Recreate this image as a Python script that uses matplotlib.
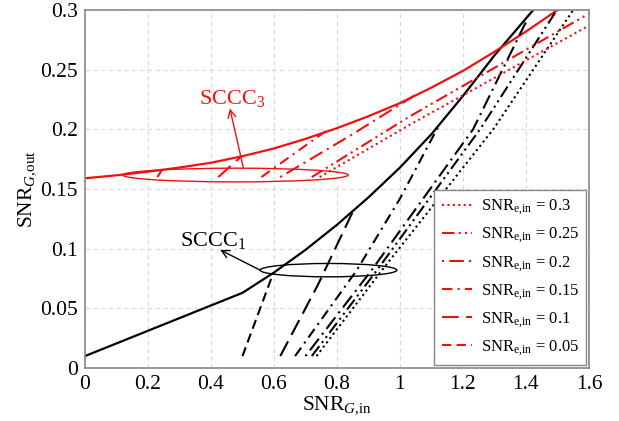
import matplotlib
matplotlib.use("Agg")
import matplotlib.pyplot as plt
from matplotlib.patches import Ellipse

# ─────────── data ──────────────────────────────────────────────────────────
snr_e_in = ["0.3", "0.25", "0.2", "0.15", "0.1", "0.05"]

# SCCC1 reference curve (black solid)
sccc1_x = [0.0, 0.5, 0.6, 0.7, 0.8, 0.9, 1.0, 1.1, 1.2, 1.3, 1.423]
sccc1_y = [0.010, 0.063, 0.080, 0.099, 0.120, 0.143, 0.168, 0.196, 0.228, 0.262, 0.300]

# SCCC3 reference curve (red solid)
sccc3_x = [0.0, 0.1, 0.2, 0.3, 0.4, 0.5, 0.6, 0.7, 0.8, 0.9, 1.0, 1.1, 1.2, 1.3, 1.4, 1.5]
sccc3_y = [0.159, 0.1615, 0.1645, 0.168, 0.172, 0.1775, 0.184, 0.192, 0.201, 0.211,
           0.222, 0.235, 0.249, 0.265, 0.282, 0.300]

# SCCC1 curves for each SNR_e,in (black), same order as snr_e_in
black_x = [
    [0.735, 0.943, 1.296, 1.55],
    [0.72, 0.927, 1.254, 1.498],
    [0.70, 0.91, 1.232, 1.40],
    [0.667, 0.863, 1.0, 1.127],
    [0.62, 0.74, 0.852],
    [0.50, 0.597],
]
black_y = [
    [0.010, 0.082, 0.200, 0.300],
    [0.010, 0.082, 0.200, 0.300],
    [0.010, 0.082, 0.200, 0.290],
    [0.010, 0.082, 0.142, 0.205],
    [0.010, 0.070, 0.132],
    [0.010, 0.079],
]

# SCCC3 curves for each SNR_e,in (red)
red_x = [
    [0.745, 1.032, 1.6],
    [0.72, 1.032, 1.6],
    [0.62, 0.85, 1.05],
    [0.56, 0.767],
    [0.423, 0.497],
    [0.23, 0.245],
]
red_y = [
    [0.160, 0.204, 0.287],
    [0.160, 0.211, 0.297],
    [0.160, 0.196, 0.229],
    [0.160, 0.199],
    [0.160, 0.1775],
    [0.160, 0.1665],
]

x_ticks = [0, 0.2, 0.4, 0.6, 0.8, 1.0, 1.2, 1.4, 1.6]
x_ticklabels = ["0", "0.2", "0.4", "0.6", "0.8", "1", "1.2", "1.4", "1.6"]
y_ticks = [0, 0.05, 0.1, 0.15, 0.2, 0.25, 0.3]
y_ticklabels = ["0", "0.05", "0.1", "0.15", "0.2", "0.25", "0.3"]

# ─────────── style ─────────────────────────────────────────────────────────
plt.rcParams["font.family"] = ["Liberation Serif", "DejaVu Serif"]
plt.rcParams["mathtext.fontset"] = "custom"
plt.rcParams["mathtext.rm"] = "Liberation Serif"
plt.rcParams["mathtext.it"] = "Liberation Serif:italic"

RED = "#ee1111"
styles = [
    (0, (1, 1.6)),
    (0, (6, 2, 1, 2, 1, 2)),
    (0, (1, 2.5, 7, 2.5)),
    (0, (5, 2.5, 1, 2.5)),
    (0, (8, 3.5)),
    (0, (4.5, 2.5)),
]

fig = plt.figure(figsize=(6.19, 4.21), dpi=100)
ax = fig.add_axes([0.1373, 0.1259, 0.8142, 0.8503])

ax.plot(sccc1_x, sccc1_y, color="black", lw=1.6)
ax.plot(sccc3_x, sccc3_y, color=RED, lw=1.6)

for xs, ys, ls in zip(black_x, black_y, styles):
    ax.plot(xs, ys, color="black", lw=1.5, linestyle=ls)

handles = []
for xs, ys, ls, lab in zip(red_x, red_y, styles, snr_e_in):
    h, = ax.plot(xs, ys, color=RED, lw=1.5, linestyle=ls,
                 label=r"$\mathrm{SNR}_{\mathrm{e{,}in}}$ = " + lab)
    handles.append(h)

# region ellipses + annotations
ax.add_patch(Ellipse((0.478, 0.1617), 0.715, 0.0115, fill=False,
                     edgecolor=RED, lw=1.0))
ax.add_patch(Ellipse((0.773, 0.0820), 0.434, 0.0112, fill=False,
                     edgecolor="black", lw=1.0))

ax.annotate("", xy=(0.46, 0.2175), xytext=(0.503, 0.1674),
            arrowprops=dict(arrowstyle="->", color=RED, lw=1.0,
                            shrinkA=0, shrinkB=0, mutation_scale=14))
ax.text(0.466, 0.221, r"SCCC$_3$", color=RED, fontsize=16,
        ha="center", va="baseline")

ax.annotate("", xy=(0.429, 0.099), xytext=(0.556, 0.082),
            arrowprops=dict(arrowstyle="->", color="black", lw=1.0,
                            shrinkA=0, shrinkB=0, mutation_scale=14))
ax.text(0.407, 0.102, r"SCCC$_1$", color="black", fontsize=16,
        ha="center", va="baseline")

# axes, grid, ticks
ax.set_xlim(0, 1.6)
ax.set_ylim(0, 0.3)
ax.set_xticks(x_ticks)
ax.set_xticklabels(x_ticklabels)
ax.set_yticks(y_ticks)
ax.set_yticklabels(y_ticklabels)
ax.tick_params(length=0, labelsize=15.5, pad=5)
ax.grid(True, color="#d8d8d8", lw=0.8, linestyle=(0, (4, 3)))
ax.set_axisbelow(True)
for sp in ax.spines.values():
    sp.set_color("#888888")
    sp.set_linewidth(1.2)

ax.set_xlabel(r"$\mathrm{SNR}_{G{,}\mathrm{in}}$", fontsize=15.5, labelpad=0)
ax.set_ylabel(r"$\mathrm{SNR}_{G{,}\mathrm{out}}$", fontsize=15.5, labelpad=2)

leg = ax.legend(handles=handles, loc="lower right", fontsize=12,
                frameon=True, fancybox=False, framealpha=1,
                edgecolor="#888888", borderaxespad=0.15,
                handlelength=1.8, handletextpad=0.55, labelspacing=0.5,
                borderpad=0.45)
leg.get_frame().set_linewidth(1.0)

fig.savefig("out.png", dpi=100)
